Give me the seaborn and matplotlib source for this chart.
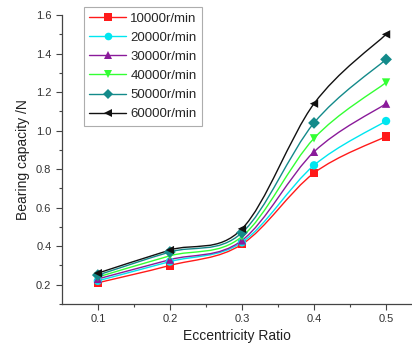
import numpy as np
import pandas as pd
import seaborn as sns
import matplotlib
matplotlib.use("Agg")
import matplotlib.pyplot as plt
from matplotlib.path import Path
from matplotlib.patches import PathPatch
from matplotlib.lines import Line2D

# data
ecc = [0.1, 0.2, 0.3, 0.4, 0.5]
speeds = ["10000r/min", "20000r/min", "30000r/min", "40000r/min", "50000r/min", "60000r/min"]
cap_10000 = [0.21, 0.30, 0.41, 0.78, 0.97]
cap_20000 = [0.22, 0.32, 0.42, 0.82, 1.05]
cap_30000 = [0.23, 0.33, 0.43, 0.89, 1.14]
cap_40000 = [0.24, 0.35, 0.45, 0.96, 1.25]
cap_50000 = [0.25, 0.37, 0.47, 1.04, 1.37]
cap_60000 = [0.26, 0.38, 0.49, 1.14, 1.50]
caps = [cap_10000, cap_20000, cap_30000, cap_40000, cap_50000, cap_60000]

colors = ["#ff1a1a", "#00e6f0", "#8a1a9a", "#33ff33", "#138a8a", "#111111"]
markers = ["s", "o", "^", "v", "D", "<"]

df = pd.DataFrame({
    "ecc": ecc * len(speeds),
    "cap": sum(caps, []),
    "speed": [s for s in speeds for _ in ecc],
})

sns.set_style("ticks")
plt.rcParams["font.family"] = ["Liberation Sans", "DejaVu Sans"]

fig = plt.figure(figsize=(4.12, 3.51), dpi=100)
ax = fig.add_axes([0.150, 0.134, 0.85, 0.823])


def smooth_path(xs, ys):
    # catmull-rom style bezier through the points (curve drawing only)
    pts = np.column_stack([xs, ys])
    verts = [pts[0]]
    codes = [Path.MOVETO]
    n = len(pts)
    for i in range(n - 1):
        p0 = pts[max(i - 1, 0)]
        p1 = pts[i]
        p2 = pts[i + 1]
        p3 = pts[min(i + 2, n - 1)]
        c1 = p1 + (p2 - p0) / 6
        c2 = p2 - (p3 - p1) / 6
        verts += [c1, c2, p2]
        codes += [Path.CURVE4] * 3
    return Path(verts, codes)


for sp, col in zip(speeds, colors):
    sub = df[df.speed == sp]
    ax.add_patch(PathPatch(smooth_path(sub.ecc.values, sub.cap.values),
                           facecolor="none", edgecolor=col, lw=1.0, zorder=2))

sns.scatterplot(data=df, x="ecc", y="cap", hue="speed", style="speed",
                palette=colors, markers=markers, hue_order=speeds, style_order=speeds,
                s=36, edgecolor="none", legend=False, ax=ax, zorder=3)

ax.set_xlim(0.05, 0.536)
ax.set_ylim(0.1, 1.6)
ax.set_xticks(ecc)
ax.set_xticks(np.arange(0.15, 0.55, 0.1), minor=True)
ax.set_yticks(np.arange(0.2, 1.61, 0.2))
ax.set_yticks(np.arange(0.1, 1.6, 0.2), minor=True)
ax.set_xticklabels(["0.1", "0.2", "0.3", "0.4", "0.5"])
ax.set_yticklabels(["0.2", "0.4", "0.6", "0.8", "1.0", "1.2", "1.4", "1.6"])
ax.tick_params(which="major", length=4, width=0.8, color="#444444", labelsize=8, labelcolor="#333333")
ax.tick_params(which="minor", length=2.5, width=0.8, color="#444444")
for s in ["top", "right"]:
    ax.spines[s].set_visible(False)
for s in ["left", "bottom"]:
    ax.spines[s].set_color("#444444")
    ax.spines[s].set_linewidth(0.9)

ax.set_xlabel("Eccentricity Ratio", fontsize=10, color="#222222", labelpad=3)
ax.set_ylabel("Bearing capacity /N", fontsize=10, color="#222222", labelpad=4)

handles = [Line2D([0], [0], color=c, marker=m, lw=1.0, markersize=5.5, markeredgewidth=0)
           for c, m in zip(colors, markers)]
leg = ax.legend(handles, speeds, loc="upper left", bbox_to_anchor=(0.045, 1.05),
                fontsize=9.5, frameon=True, fancybox=False, handlelength=2.8,
                labelspacing=0.52, handletextpad=0.3, borderpad=0.4)
leg.get_frame().set_edgecolor("#999999")
leg.get_frame().set_linewidth(0.8)

fig.savefig("out.png", dpi=100)
